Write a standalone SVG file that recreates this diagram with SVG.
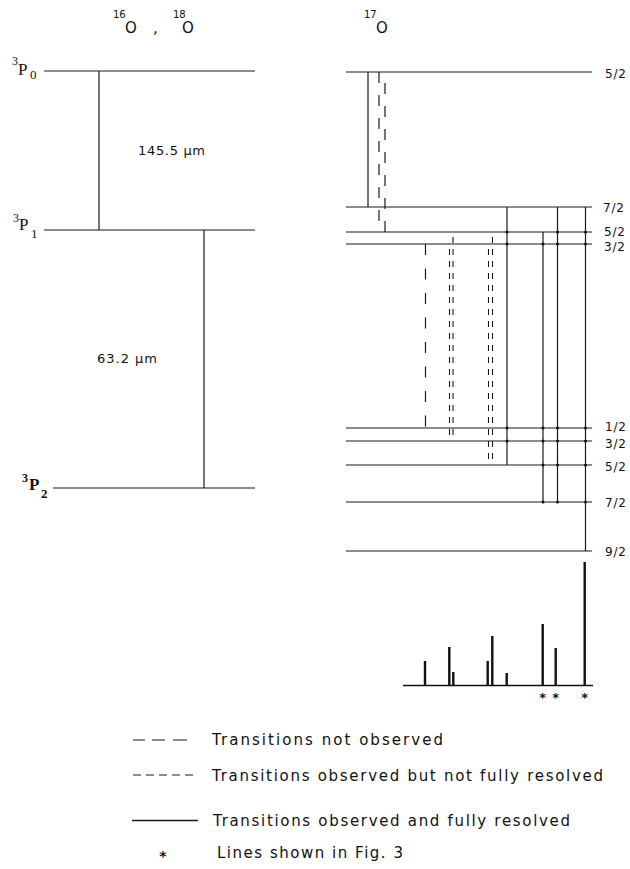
<svg xmlns="http://www.w3.org/2000/svg" width="630" height="869" viewBox="0 0 630 869">
<style>
.lvl{stroke:#1a1a1a;stroke-width:1.2;fill:none}
.solid{stroke:#1a1a1a;stroke-width:1.2;fill:none}
.ldash{stroke:#1a1a1a;stroke-width:1.2;stroke-dasharray:11 12;fill:none}
.ldash2{stroke:#1a1a1a;stroke-width:1.2;stroke-dasharray:11 13.5;fill:none}
.sdash{stroke:#1a1a1a;stroke-width:1.1;stroke-dasharray:6 6;stroke-dashoffset:7;fill:none}
.peak{stroke:#111;stroke-width:2.4;fill:none}
.base{stroke:#111;stroke-width:1.5;fill:none}
.serif{font-family:"Liberation Serif",serif;fill:#111}
.sans{font-family:"DejaVu Sans","Liberation Sans",sans-serif;fill:#111}
.flbl{font-size:12px}
.leg{font-size:15px}
.dot{fill:#111}
</style>
<rect width="630" height="869" fill="#fff"/>

<g id="title-16O-18O">
<text class="sans" x="113" y="18" font-size="10">16</text>
<text class="sans" x="125" y="33" font-size="15">O</text>
<text class="sans" x="153" y="33" font-size="15">,</text>
<text class="sans" x="173" y="18" font-size="10">18</text>
<text class="sans" x="182" y="33" font-size="15">O</text>
</g>
<g id="title-17O">
<text class="sans" x="364" y="18" font-size="10">17</text>
<text class="sans" x="376" y="33" font-size="15">O</text>
</g>

<g id="level-3P0">
<path class="lvl" d="M44 71 H255"/>
<text class="serif" x="12" y="65" font-size="12">3</text>
<text class="serif" x="18" y="75" font-size="17">P</text>
<text class="serif" x="30" y="79" font-size="13">0</text>
</g>
<g id="level-3P1">
<path class="lvl" d="M44 230 H255"/>
<text class="serif" x="13" y="222" font-size="12">3</text>
<text class="serif" x="19" y="230" font-size="17">P</text>
<text class="serif" x="31" y="238" font-size="13">1</text>
</g>
<g id="level-3P2">
<path class="lvl" d="M53 488 H255"/>
<text class="serif" x="22" y="482" font-size="12" font-weight="bold">3</text>
<text class="serif" x="29" y="490" font-size="17" font-weight="bold">P</text>
<text class="serif" x="41" y="498" font-size="13" font-weight="bold">2</text>
</g>

<g id="F-3P0-5-2"><path class="lvl" d="M346 72 H592"/><text class="sans flbl" x="605" y="77.5" textLength="21">5/2</text></g>
<g id="F-3P1-7-2"><path class="lvl" d="M346 207 H592"/><text class="sans flbl" x="603" y="212" textLength="21">7/2</text></g>
<g id="F-3P1-5-2"><path class="lvl" d="M346 232 H592"/><text class="sans flbl" x="604" y="235.5" textLength="21">5/2</text></g>
<g id="F-3P1-3-2"><path class="lvl" d="M346 244 H592"/><text class="sans flbl" x="604" y="250.5" textLength="21">3/2</text></g>
<g id="F-3P2-1-2"><path class="lvl" d="M346 428 H592"/><text class="sans flbl" x="605" y="431" textLength="21">1/2</text></g>
<g id="F-3P2-3-2"><path class="lvl" d="M346 441 H592"/><text class="sans flbl" x="605" y="448" textLength="21">3/2</text></g>
<g id="F-3P2-5-2"><path class="lvl" d="M346 465 H592"/><text class="sans flbl" x="605" y="471" textLength="21">5/2</text></g>
<g id="F-3P2-7-2"><path class="lvl" d="M346 502 H592"/><text class="sans flbl" x="605" y="507" textLength="21">7/2</text></g>
<g id="F-3P2-9-2"><path class="lvl" d="M346 551 H592"/><text class="sans flbl" x="605" y="556" textLength="21">9/2</text></g>

<g id="connectors">
<path class="solid" d="M99 71 V230"/>
<path class="solid" d="M204 230 V488"/>
<path class="solid" d="M368 72 V207"/>
<path class="ldash" d="M379 72 V232"/>
<path class="ldash" d="M385 72 V244" style="stroke-dashoffset:-11"/>
<path class="solid" d="M507 207 V465"/>
<path class="solid" d="M543 232 V502"/>
<path class="solid" d="M557.5 207 V502"/>
<path class="solid" d="M585.5 207 V551"/>
<path class="ldash2" d="M425.5 244 V428"/>
<path class="sdash" d="M449.5 244 V441"/>
<path class="sdash" d="M453 232 V441"/>
<path class="sdash" d="M488.5 244 V465"/>
<path class="sdash" d="M492.5 232 V465"/>
<g class="dot">
<circle cx="507" cy="232" r="1.5"/><circle cx="507" cy="244" r="1.5"/><circle cx="507" cy="428" r="1.5"/><circle cx="507" cy="441" r="1.5"/>
<circle cx="543" cy="244" r="1.5"/><circle cx="543" cy="428" r="1.5"/><circle cx="543" cy="441" r="1.5"/><circle cx="543" cy="465" r="1.5"/><circle cx="543" cy="502" r="1.5"/>
<circle cx="557.5" cy="232" r="1.5"/><circle cx="557.5" cy="244" r="1.5"/><circle cx="557.5" cy="428" r="1.5"/><circle cx="557.5" cy="441" r="1.5"/><circle cx="557.5" cy="465" r="1.5"/><circle cx="557.5" cy="502" r="1.5"/>
<circle cx="585.5" cy="232" r="1.5"/><circle cx="585.5" cy="244" r="1.5"/><circle cx="585.5" cy="428" r="1.5"/><circle cx="585.5" cy="441" r="1.5"/><circle cx="585.5" cy="465" r="1.5"/><circle cx="585.5" cy="502" r="1.5"/>
</g>
</g>

<g id="wavelength-labels">
<text class="sans" x="138" y="155" font-size="13" textLength="67">145.5 µm</text>
<text class="sans" x="97" y="363" font-size="13" textLength="60">63.2 µm</text>
</g>

<g id="spectrum">
<path class="base" d="M403 685.5 H593"/>
<path class="peak" d="M425 685.5 V661 M449.3 685.5 V647 M453.3 685.5 V672 M487.7 685.5 V661 M492.3 685.5 V636 M506.7 685.5 V673 M542.7 685.5 V624 M555.7 685.5 V648 M584.7 685.5 V562"/>
<g class="sans" font-size="13" font-weight="bold" text-anchor="middle">
<text x="542.7" y="702">*</text>
<text x="555.7" y="702">*</text>
<text x="584.7" y="702">*</text>
</g>
</g>

<g id="legend">
<path class="solid" d="M133 740 H145 M152 740 H165 M173 740 H187"/>
<text class="sans leg" x="212" y="745" textLength="231">Transitions not observed</text>
<path class="solid" d="M133 775 H197" style="stroke-dasharray:8 5"/>
<text class="sans leg" x="212" y="781" textLength="391">Transitions observed but not fully resolved</text>
<path class="solid" d="M132 820.5 H198" style="stroke-width:1.6"/>
<text class="sans leg" x="213" y="826" textLength="357">Transitions observed and fully resolved</text>
<text class="sans" x="163" y="861" font-size="14" font-weight="bold" text-anchor="middle">*</text>
<text class="sans leg" x="217" y="858" textLength="186">Lines shown in Fig. 3</text>
</g>
</svg>
